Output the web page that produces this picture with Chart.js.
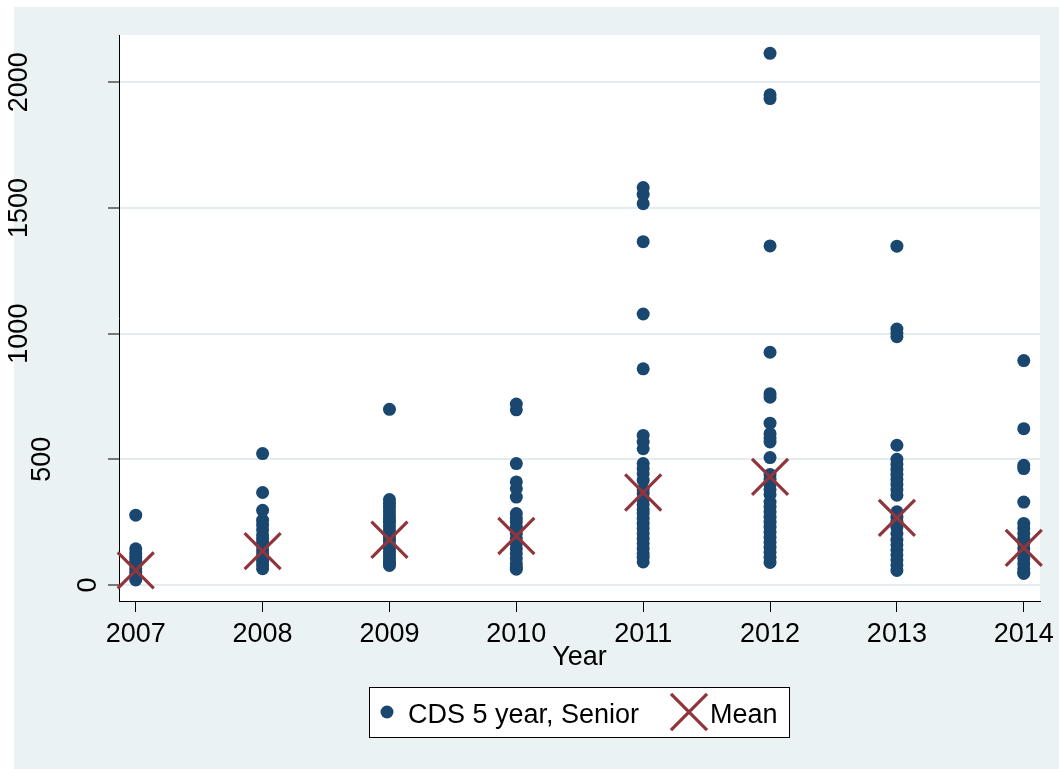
<!DOCTYPE html>
<html>
<head>
<meta charset="utf-8">
<style>
  html, body { margin: 0; padding: 0; background: #ffffff; }
  #wrap { width: 1059px; height: 769px; position: relative; }
</style>
<script src="https://cdn.jsdelivr.net/npm/chart.js@4.4.1/dist/chart.umd.min.js"></script>
</head>
<body>
<div id="wrap"><canvas id="c" width="1059" height="769"></canvas></div>
<script>
// ---- Data ----
const years = [2007, 2008, 2009, 2010, 2011, 2012, 2013, 2014];
const xTickLabels = ['2007', '2008', '2009', '2010', '2011', '2012', '2013', '2014'];
const yTickValues = [0, 500, 1000, 1500, 2000];
const yTickLabels = ['0', '500', '1000', '1500', '2000'];

const cds2007 = [278, 144, 126, 110, 95, 80, 65, 50, 35, 20];
const cds2008 = [523, 368, 297, 258, 240, 220, 200, 185, 170, 155, 140, 125, 110, 95, 80, 65];
const cds2009 = [699, 340, 325, 310, 295, 280, 265, 250, 235, 220, 205, 190, 175, 160, 145, 132, 120, 108, 96, 86, 78];
const cds2010 = [720, 697, 483, 410, 384, 350, 284, 265, 251, 230, 205, 185, 165, 145, 125, 105, 85, 72, 63];
const cds2011 = [1581, 1554, 1517, 1366, 1078, 860, 595, 569, 542, 483, 463, 443, 417, 380, 364, 340, 320, 300, 285, 265, 245, 225, 205, 185, 165, 145, 125, 110, 92];
const cds2012 = [2115, 1950, 1935, 1349, 926, 761, 747, 644, 602, 585, 569, 507, 440, 420, 400, 380, 360, 330, 310, 290, 270, 250, 230, 210, 190, 170, 150, 130, 110, 90];
const cds2013 = [1348, 1018, 1003, 988, 556, 500, 480, 460, 440, 420, 400, 380, 357, 291, 270, 250, 230, 205, 179, 160, 140, 120, 100, 80, 58];
const cds2014 = [893, 622, 476, 463, 330, 245, 225, 205, 185, 165, 145, 125, 105, 85, 65, 50, 46];
const meanValues = [58, 135, 180, 195, 368, 430, 267, 148];

const seriesLabels = ['CDS 5 year, Senior', 'Mean'];
const axisTitleX = 'Year';

// ---- Build chart data ----
const cdsByYear = [cds2007, cds2008, cds2009, cds2010, cds2011, cds2012, cds2013, cds2014];
const cdsPoints = [];
cdsByYear.forEach((vals, i) => vals.forEach(v => cdsPoints.push({ x: years[i], y: v })));
const meanPoints = years.map((yr, i) => ({ x: yr, y: meanValues[i] }));

const NAVY = '#1a476f';
const MAROON = '#90353b';
const BG = '#eaf2f3';
const FONT = '"Liberation Sans", Arial, sans-serif';
const FS = 27;

const bgPlugin = {
  id: 'bgPlugin',
  beforeDraw(chart) {
    const ctx = chart.ctx;
    const a = chart.chartArea;
    ctx.save();
    ctx.fillStyle = '#ffffff';
    ctx.fillRect(0, 0, chart.width, chart.height);
    ctx.fillStyle = BG;
    ctx.fillRect(14, 7, chart.width - 14, chart.height - 7);
    ctx.fillStyle = '#ffffff';
    ctx.fillRect(a.left, a.top, a.right - a.left, a.bottom - a.top);
    ctx.restore();
  }
};

const axisLabelPlugin = {
  id: 'axisLabelPlugin',
  afterDraw(chart) {
    const ctx = chart.ctx;
    const ys = chart.scales.y;
    const xs = chart.scales.x;
    ctx.save();
    ctx.font = FS + 'px ' + FONT;
    ctx.fillStyle = '#000000';
    // y tick labels, rotated
    ctx.textAlign = 'center';
    ctx.textBaseline = 'middle';
    yTickValues.forEach((v, i) => {
      const txt = yTickLabels[i];
      const w = ctx.measureText(txt).width;
      const cx = 111 - 1.52 * w;
      const cy = ys.getPixelForValue(v);
      ctx.save();
      ctx.translate(cx, cy);
      ctx.rotate(-Math.PI / 2);
      ctx.fillText(txt, 0, 0);
      ctx.restore();
    });
    // x tick labels
    ctx.textAlign = 'center';
    ctx.textBaseline = 'alphabetic';
    years.forEach((yr, i) => {
      ctx.fillText(xTickLabels[i], xs.getPixelForValue(yr), xs.top + 41);
    });
    ctx.restore();
  }
};

const legendPlugin = {
  id: 'legendPlugin',
  afterDraw(chart) {
    const ctx = chart.ctx;
    ctx.save();
    ctx.fillStyle = '#ffffff';
    ctx.fillRect(369, 687, 420, 50);
    ctx.strokeStyle = '#000000';
    ctx.lineWidth = 1;
    ctx.strokeRect(369.5, 687.5, 420, 50);
    ctx.fillStyle = NAVY;
    ctx.beginPath();
    ctx.arc(387, 712, 6.5, 0, Math.PI * 2);
    ctx.fill();
    const r = 25.5 * Math.SQRT1_2;
    ctx.strokeStyle = MAROON;
    ctx.lineWidth = 3.2;
    ctx.beginPath();
    ctx.moveTo(689 - r, 712 - r); ctx.lineTo(689 + r, 712 + r);
    ctx.moveTo(689 + r, 712 - r); ctx.lineTo(689 - r, 712 + r);
    ctx.stroke();
    ctx.fillStyle = '#000000';
    ctx.font = FS + 'px ' + FONT;
    ctx.textAlign = 'left';
    ctx.textBaseline = 'alphabetic';
    ctx.fillText(seriesLabels[0], 408, 723);
    ctx.fillText(seriesLabels[1], 710, 723);
    ctx.restore();
  }
};

new Chart(document.getElementById('c'), {
  type: 'scatter',
  data: {
    datasets: [
      {
        label: seriesLabels[0],
        data: cdsPoints,
        pointStyle: 'circle',
        pointRadius: 6.5,
        pointBackgroundColor: NAVY,
        pointBorderColor: NAVY,
        pointBorderWidth: 0,
        clip: false,
        order: 2
      },
      {
        label: seriesLabels[1],
        data: meanPoints,
        pointStyle: 'crossRot',
        pointRadius: 25.5,
        pointBorderColor: MAROON,
        pointBackgroundColor: MAROON,
        pointBorderWidth: 3.2,
        clip: false,
        order: 1
      }
    ]
  },
  options: {
    responsive: false,
    animation: false,
    devicePixelRatio: 1,
    layout: { autoPadding: false, padding: { left: 0, top: 35, right: 19, bottom: 0 } },
    plugins: {
      legend: { display: false },
      tooltip: { enabled: false }
    },
    scales: {
      x: {
        type: 'linear',
        min: 2006.868,
        max: 2014.128,
        afterBuildTicks(scale) { scale.ticks = years.map(v => ({ value: v })); },
        afterFit(scale) {
          scale.height = 168;
          scale.paddingLeft = 0;
          scale.paddingRight = 0;
        },
        border: { display: true, color: '#000000', width: 1 },
        grid: {
          drawOnChartArea: false,
          drawTicks: true,
          tickLength: 11,
          tickColor: '#000000',
          tickWidth: 1
        },
        ticks: { display: false },
        title: {
          display: true,
          text: axisTitleX,
          color: '#000000',
          font: { family: FONT, size: FS },
          padding: { top: 0, bottom: 95 }
        }
      },
      y: {
        type: 'linear',
        min: -63.6,
        max: 2188,
        afterBuildTicks(scale) { scale.ticks = yTickValues.map(v => ({ value: v })); },
        afterFit(scale) {
          scale.width = 119;
          scale.paddingTop = 0;
          scale.paddingBottom = 0;
        },
        border: { display: true, color: '#000000', width: 1 },
        grid: {
          color: '#e3ecef',
          lineWidth: 2,
          drawTicks: true,
          tickLength: 11,
          tickColor: '#000000',
          tickWidth: 1
        },
        ticks: { display: false }
      }
    }
  },
  plugins: [bgPlugin, axisLabelPlugin, legendPlugin]
});
</script>
</body>
</html>
